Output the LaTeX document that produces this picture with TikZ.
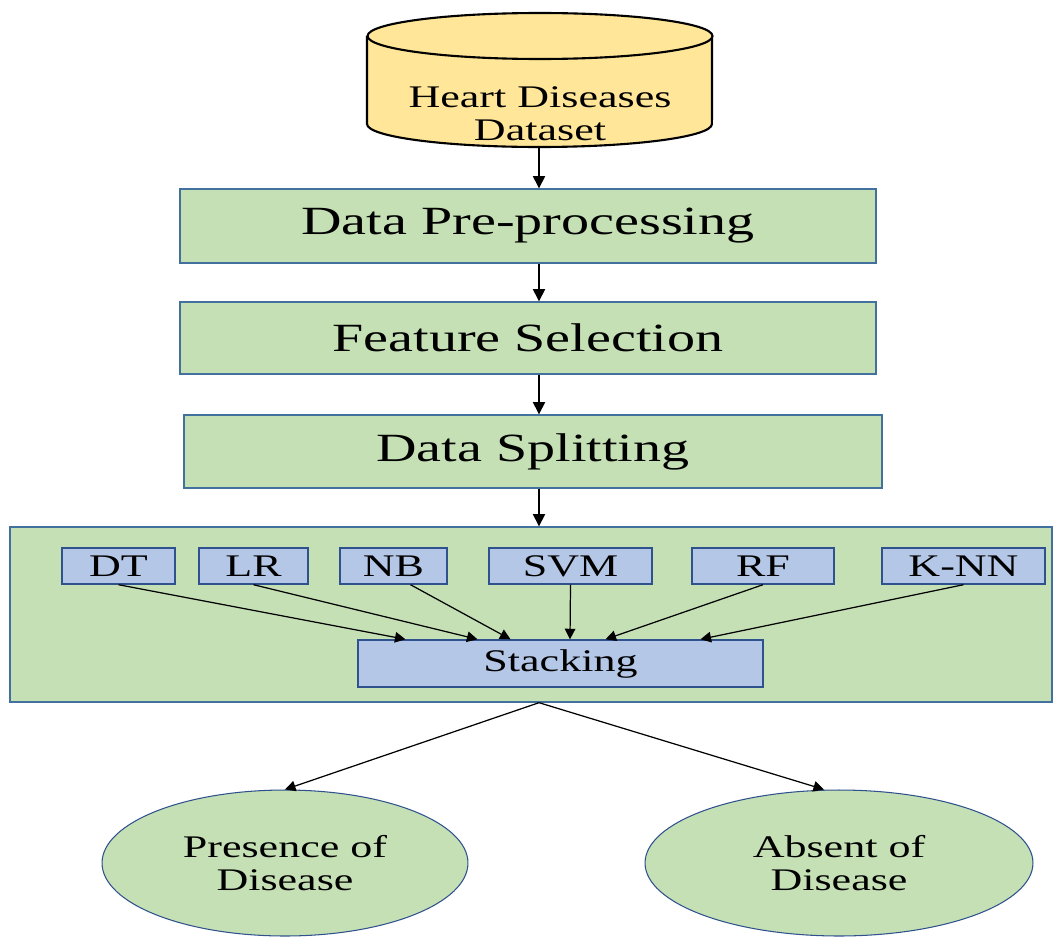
\documentclass[tikz,border=0pt]{standalone}
\usepackage{graphicx}
\usepackage{fontspec}
\setmainfont{Liberation Serif}
\usetikzlibrary{arrows.meta,shapes.geometric}
\definecolor{boxgreen}{HTML}{C5E0B4}
\definecolor{boxblue}{HTML}{B4C7E7}
\definecolor{edgeblue}{HTML}{41719C}
\definecolor{darkedge}{HTML}{2F528F}
\definecolor{dbyellow}{HTML}{FFE699}
\newcommand{\wide}[1]{\scalebox{1.4}[1]{#1}}
\begin{document}
\begin{tikzpicture}[x=0.02cm, y=-0.02cm,
  stage/.style={draw=edgeblue, fill=boxgreen, line width=0.8pt, inner sep=0pt, font=\fontsize{22.8}{24}\selectfont},
  model/.style={draw=darkedge, fill=boxblue, line width=0.8pt, inner sep=0pt, minimum height=0.72cm, font=\fontsize{17.9}{18.7}\selectfont},
  outcome/.style={ellipse, draw=darkedge, fill=boxgreen, line width=0.6pt, inner sep=0pt, align=center, font=\fontsize{17.9}{18.7}\selectfont},
  arr/.style={-{Triangle[length=6pt,width=6pt]}, line width=0.7pt},
  bigarr/.style={-{Triangle[length=7pt,width=7pt]}, line width=0.8pt}]
\useasboundingbox (0,0) rectangle (1054,936);
\filldraw[fill=dbyellow, line width=1.2pt] (367,36) -- (367,124) arc[start angle=180, end angle=360, x radius=3.45cm, y radius=0.46cm] -- (712,36);
\filldraw[fill=dbyellow, line width=1.2pt] (540,36) ellipse [x radius=3.45cm, y radius=0.46cm];
\node[align=center, inner sep=0pt, font=\fontsize{17.9}{18.7}\selectfont] (dbtext) at (540,114) {\wide{Heart Diseases}\\\wide{Dataset}};
\coordinate (dbbot) at (539,148);

\node[stage, minimum width=13.92cm, minimum height=1.48cm] (pre) at (528,226) {\wide{Data Pre-processing}};
\node[stage, minimum width=13.92cm, minimum height=1.44cm] (feat) at (528,338) {\wide{Feature Selection}};
\node[stage, minimum width=13.96cm, minimum height=1.46cm] (split) at (533,451.5) {\wide{Data Splitting}};
\node[stage, minimum width=20.84cm, minimum height=3.5cm] (ens) at (531,614.5) {};

\draw[bigarr] (dbbot) -- (pre.north -| dbbot);
\draw[bigarr] (pre.south -| dbbot) -- (feat.north -| dbbot);
\draw[bigarr] (feat.south -| dbbot) -- (split.north -| dbbot);
\draw[bigarr] (split.south -| dbbot) -- (ens.north -| dbbot);

\foreach \name/\txt/\cx/\w in {dt/DT/118.5/2.26, lr/LR/253.5/2.18, nb/NB/393.5/2.14, svm/SVM/570.5/3.26, rf/RF/763/2.84, knn/K-NN/963.5/3.26}
  \node[model, minimum width=\w cm] (\name) at (\cx,566) {\wide{\txt}};
\node[model, minimum width=8.1cm, minimum height=0.94cm] (stack) at (560.5,663.5) {\wide{Stacking}};

\foreach \name/\dx/\sx in {dt/-155/0, lr/-83/0, nb/-50/17, svm/9.5/0, rf/45/0, knn/140/0}
  \draw[arr] ([xshift=\sx*0.02cm]\name.south) -- ([xshift=\dx*0.02cm]stack.north);

\node[outcome, minimum width=7.32cm, minimum height=2.92cm] (pres) at (285,863) {\wide{Presence of}\\\wide{Disease}};
\node[outcome, minimum width=7.76cm, minimum height=2.92cm] (abs) at (839,863) {\wide{Absent of}\\\wide{Disease}};

\draw[arr] (ens.south -| dbbot) -- (pres.north);
\draw[arr] (ens.south -| dbbot) -- ([xshift=-0.3cm]abs.north);
\end{tikzpicture}
\end{document}
